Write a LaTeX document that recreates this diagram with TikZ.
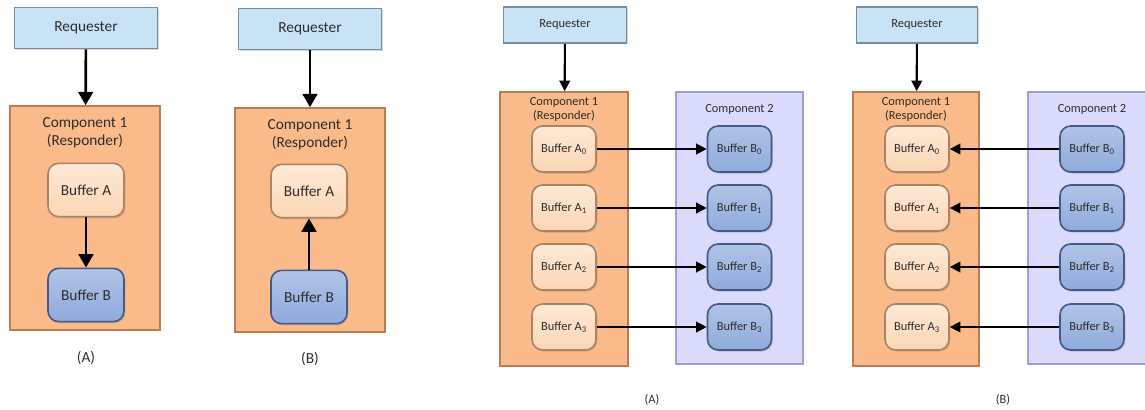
\documentclass[tikz,border=0pt]{standalone}
\usepackage{fontspec}
\setmainfont{Carlito}
\usetikzlibrary{arrows.meta,shadows}

\definecolor{reqfill}{RGB}{200,226,246}
\definecolor{reqedge}{RGB}{120,140,160}
\definecolor{compfill}{RGB}{250,186,138}
\definecolor{compedge}{RGB}{185,125,85}
\definecolor{comptwofill}{RGB}{218,218,252}
\definecolor{comptwoedge}{RGB}{160,160,212}
\definecolor{bufafill}{RGB}{252,214,180}
\definecolor{bufaedge}{RGB}{170,130,100}
\definecolor{bufbfill}{RGB}{143,170,220}
\definecolor{bufbedge}{RGB}{70,88,135}
\definecolor{txt}{RGB}{45,45,45}

\tikzset{
  reqbox/.style={draw=reqedge,line width=1.2pt,fill=reqfill,text=txt,
    drop shadow={shadow xshift=1pt,shadow yshift=-1pt,opacity=0.3}},
  compbox/.style={draw=compedge,line width=1.2pt,fill=compfill,
    drop shadow={shadow xshift=1pt,shadow yshift=-1pt,opacity=0.3}},
  comptwobox/.style={draw=comptwoedge,line width=1.2pt,fill=comptwofill,
    drop shadow={shadow xshift=1pt,shadow yshift=-1pt,opacity=0.3}},
  bufa/.style={draw=bufaedge,line width=1.2pt,top color=bufafill!55!white,bottom color=bufafill,
    rounded corners=8pt,text=txt,
    drop shadow={shadow xshift=1pt,shadow yshift=-1.2pt,opacity=0.35}},
  bufb/.style={draw=bufbedge,line width=1.2pt,top color=bufbfill!70!white,bottom color=bufbfill,
    rounded corners=8pt,text=txt,
    drop shadow={shadow xshift=1pt,shadow yshift=-1.2pt,opacity=0.35}},
  bigfont/.style={font=\fontsize{11.5}{13.5}\selectfont},
  smallfont/.style={font=\fontsize{9.3}{11}\selectfont},
  bigarrow/.style={-{Triangle[width=11pt,length=10pt]},line width=2pt},
  smallarrow/.style={-{Triangle[width=8pt,length=8pt]},line width=1.6pt}
}

\begin{document}
\begin{tikzpicture}[x=0.75pt,y=-0.75pt]
  \useasboundingbox (0,0) rectangle (1145,410);

  % Panel (A), single component
  \node[compbox,minimum width=112.5pt,minimum height=168pt] (cpa) at (85,218) {};
  \node[bigfont,text=txt,align=center] (cpatitle) at (85,133) {Component 1\\(Responder)};
  \node[reqbox,bigfont,minimum width=107pt,minimum height=31pt] (rqa) at (86,28) {Requester};
  \node[bufa,bigfont,minimum width=57pt,minimum height=40pt] (ba) at (86,190) {Buffer A};
  \node[bufb,bigfont,minimum width=57pt,minimum height=40pt] (bb) at (86,295) {Buffer B};
  \node[bigfont,text=txt] (lbla) at (86,358) {(A)};
  \draw[bigarrow] (rqa) -- (cpa);
  \draw[bigarrow] (ba) -- (bb);

  % Panel (B), single component
  \node[compbox,minimum width=112.5pt,minimum height=168pt] (cpb) at (310,220) {};
  \node[bigfont,text=txt,align=center] (cpbtitle) at (310,135) {Component 1\\(Responder)};
  \node[reqbox,bigfont,minimum width=107pt,minimum height=31pt] (rqb) at (310,29) {Requester};
  \node[bufa,bigfont,minimum width=57pt,minimum height=40pt] (ba2) at (309,191) {Buffer A};
  \node[bufb,bigfont,minimum width=57pt,minimum height=40pt] (bb2) at (309,297) {Buffer B};
  \node[bigfont,text=txt] (lblb) at (310,359) {(B)};
  \draw[bigarrow] (rqb) -- (cpb);
  \draw[bigarrow] (bb2) -- (ba2);

  % Panel (A), two components
  \node[compbox,minimum width=96pt,minimum height=205.5pt] (cpc) at (564,229) {};
  \node[comptwobox,minimum width=95pt,minimum height=204pt] (cpd) at (739.5,228) {};
  \node[smallfont,text=txt,align=center] (cpctitle) at (564,109.5) {Component 1\\(Responder)};
  \node[smallfont,text=txt] (cpdtitle) at (739.5,109) {Component 2};
  \node[reqbox,smallfont,minimum width=92pt,minimum height=27pt] (rqc) at (565,25) {Requester};
  \node[smallfont,text=txt] (lblc) at (652,400) {(A)};
  \draw[smallarrow] (rqc) -- (cpc);
  \foreach \i/\y in {0/149,1/208,2/267,3/327}{
    \node[bufa,smallfont,minimum width=48pt,minimum height=34.5pt] (ca\i) at (564,\y) {Buffer A\textsubscript{\i}};
    \node[bufb,smallfont,minimum width=48pt,minimum height=34.5pt] (cb\i) at (739.5,\y) {Buffer B\textsubscript{\i}};
    \draw[smallarrow] (ca\i) -- (cb\i);
  }

  % Panel (B), two components
  \node[compbox,minimum width=94.5pt,minimum height=205.5pt] (cpe) at (916,229) {};
  \node[comptwobox,minimum width=95pt,minimum height=204pt] (cpf) at (1091.5,228) {};
  \node[smallfont,text=txt,align=center] (cpetitle) at (916,109.5) {Component 1\\(Responder)};
  \node[smallfont,text=txt] (cpftitle) at (1092,109) {Component 2};
  \node[reqbox,smallfont,minimum width=91pt,minimum height=27pt] (rqe) at (917,25) {Requester};
  \node[smallfont,text=txt] (lble) at (1003,400) {(B)};
  \draw[smallarrow] (rqe) -- (cpe);
  \foreach \i/\y in {0/149,1/208,2/267,3/327}{
    \node[bufa,smallfont,minimum width=48pt,minimum height=34.5pt] (ea\i) at (917,\y) {Buffer A\textsubscript{\i}};
    \node[bufb,smallfont,minimum width=48pt,minimum height=34.5pt] (eb\i) at (1092,\y) {Buffer B\textsubscript{\i}};
    \draw[smallarrow] (eb\i) -- (ea\i);
  }
\end{tikzpicture}
\end{document}
